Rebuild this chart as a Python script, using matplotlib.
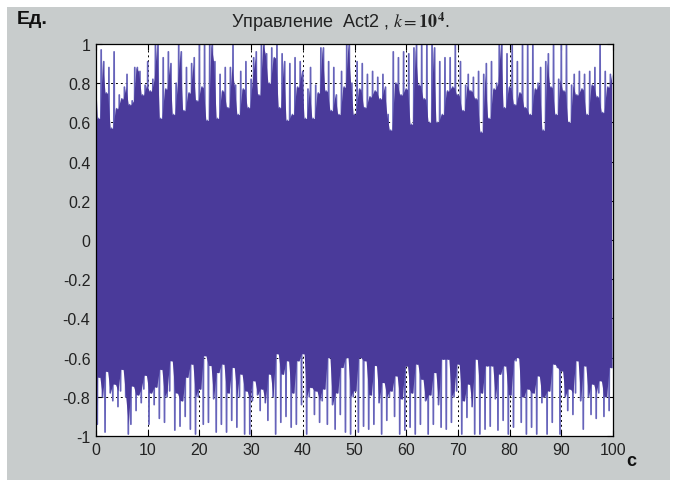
import matplotlib
matplotlib.use('Agg')
import matplotlib.pyplot as plt
from matplotlib.patches import Rectangle
import numpy as np

# ---- data ----
# upper peaks of the control signal, one every 0.5 s (t = 0, 0.5, ..., 99.5)
upper_peaks = [
    0.78, 0.62, 0.97, 0.91, 0.75, 0.88, 0.57, 0.96, 0.67, 0.74,
    0.72, 0.78, 0.845, 0.69, 0.71, 0.88, 0.88, 0.86, 0.74, 0.79,
    0.91, 0.76, 0.82, 1.0, 1.0, 0.62, 0.93, 0.77, 0.96, 0.90,
    0.64, 0.80, 1.0, 0.96, 0.66, 0.88, 0.75, 0.90, 0.93, 0.71,
    1.0, 0.78, 1.0, 0.61, 1.0, 1.0, 0.91, 0.62, 0.845, 0.76,
    0.88, 0.675, 0.88, 1.0, 0.79, 0.64, 0.86, 0.77, 0.91, 0.675,
    0.82, 0.93, 0.96, 0.74, 1.0, 1.0, 0.95, 0.80, 0.98, 0.93,
    1.0, 0.675, 0.95, 0.91, 0.61, 0.90, 0.64, 0.93, 0.78, 0.91,
    0.86, 0.62, 0.77, 0.88, 0.62, 0.79, 0.75, 0.98, 0.98, 0.76,
    0.91, 0.66, 0.88, 0.74, 0.64, 0.86, 0.78, 1.0, 1.0, 0.80,
    0.64, 0.91, 0.77, 0.90, 0.675, 0.845, 0.73, 0.86, 0.76, 0.83,
    0.72, 0.845, 0.78, 0.64, 0.56, 0.96, 0.80, 0.93, 0.74, 0.96,
    0.77, 0.95, 0.59, 0.98, 1.0, 0.79, 1.0, 0.72, 1.0, 0.60,
    1.0, 0.98, 0.60, 0.91, 0.64, 0.93, 0.76, 0.93, 0.78, 1.0,
    0.74, 0.91, 0.66, 0.79, 0.845, 0.76, 0.83, 0.72, 0.86, 0.55,
    0.845, 0.90, 0.62, 0.91, 0.77, 0.80, 1.0, 1.0, 0.675, 0.95,
    0.78, 1.0, 0.69, 0.91, 0.75, 1.0, 0.675, 1.0, 0.64, 1.0,
    0.77, 0.80, 0.88, 0.56, 0.91, 0.95, 0.78, 1.0, 0.64, 0.82,
    1.0, 0.76, 1.0, 0.60, 0.79, 0.845, 0.74, 0.86, 0.77, 0.845,
    0.64, 0.86, 0.79, 0.88, 0.73, 1.0, 0.65, 0.86, 0.78, 0.845,
]
# lower peaks, one every 0.5 s (t = 0.25, 0.75, ..., 99.75)
lower_peaks = [
    -0.94, -0.70, -0.80, -0.98, -0.67, -0.78, -0.82, -0.735, -0.85, -0.77,
    -0.66, -0.80, -0.99, -0.94, -0.745, -0.87, -0.79, -0.83, -0.76, -0.69,
    -0.94, -0.78, -0.84, -0.75, -0.91, -0.66, -0.93, -0.80, -0.77, -0.616,
    -0.97, -0.78, -0.95, -0.82, -0.90, -0.70, -0.965, -0.633, -0.99, -0.80,
    -0.76, -0.94, -0.59, -0.93, -0.64, -0.81, -0.98, -0.676, -0.94, -0.633,
    -0.98, -0.78, -0.92, -0.65, -0.955, -0.80, -0.684, -0.99, -0.77, -0.99,
    -0.82, -0.718, -0.79, -0.87, -0.76, -0.83, -0.92, -0.684, -0.80, -0.99,
    -0.58, -0.93, -0.684, -0.90, -0.616, -0.955, -0.78, -0.94, -0.616, -0.84,
    -0.58, -0.99, -0.80, -0.752, -0.89, -0.77, -0.93, -0.82, -0.76, -0.94,
    -0.60, -0.84, -0.965, -0.78, -0.89, -0.65, -0.98, -0.60, -0.99, -0.80,
    -0.77, -0.98, -0.60, -0.95, -0.616, -0.965, -0.79, -0.94, -0.64, -0.83,
    -0.99, -0.727, -0.92, -0.80, -0.77, -0.90, -0.693, -0.99, -0.81, -0.97,
    -0.642, -0.955, -0.78, -0.99, -0.633, -0.94, -0.71, -0.82, -0.99, -0.79,
    -0.94, -0.676, -0.84, -0.955, -0.608, -0.965, -0.608, -0.93, -0.80, -0.77,
    -0.633, -0.99, -0.82, -0.905, -0.735, -0.85, -0.99, -0.608, -0.99, -0.78,
    -0.965, -0.642, -0.95, -0.642, -0.81, -0.97, -0.684, -0.92, -0.642, -0.99,
    -0.79, -0.955, -0.616, -0.60, -0.93, -0.80, -0.99, -0.76, -0.955, -0.78,
    -0.99, -0.693, -0.83, -0.80, -0.99, -0.77, -0.93, -0.633, -0.65, -0.99,
    -0.667, -0.80, -0.87, -0.76, -0.89, -0.78, -0.616, -0.82, -0.965, -0.642,
    -0.80, -0.89, -0.735, -0.91, -0.78, -0.718, -0.90, -0.80, -0.87, -0.65,
]
peak_step = 0.5  # seconds between successive upper peaks

x_ticks = [0, 10, 20, 30, 40, 50, 60, 70, 80, 90, 100]
x_tick_labels = ['0', '10', '20', '30', '40', '50', '60', '70', '80', '90', '100']
y_ticks = [-1, -0.8, -0.6, -0.4, -0.2, 0, 0.2, 0.4, 0.6, 0.8, 1]
y_tick_labels = ['-1', '-0.8', '-0.6', '-0.4', '-0.2', '0', '0.2', '0.4', '0.6', '0.8', '1']

title_text = 'Управление  Act2 , $k=\\mathbf{10}^{\\mathbf{4}}$.'
y_unit = 'Ед.'
x_unit = 'с'

# ---- build signal ----
up = np.asarray(upper_peaks)
lo = np.asarray(lower_peaks)
n = len(up)
t_up = np.arange(n) * peak_step
t_low = t_up + peak_step / 2
t = np.empty(2 * n)
y = np.empty(2 * n)
t[0::2] = t_up
t[1::2] = t_low
y[0::2] = up
y[1::2] = lo

# dense core: the part of the band covered by neighbouring oscillations
up_pad = np.pad(up, 1, mode='edge')
lo_pad = np.pad(lo, 1, mode='edge')
core_top = np.minimum(up_pad[:-1], up_pad[1:])   # between successive upper peaks
core_bot = np.maximum(lo_pad[:-1], lo_pad[1:])   # between successive lower peaks
t_core_top = np.concatenate(([t_up[0]], t_up + peak_step / 2))[:len(core_top)]
t_core_bot = np.concatenate(([t_low[0] - peak_step / 2], t_low))[:len(core_bot)]
t_core_top = np.clip(t_core_top - peak_step / 2 + peak_step / 2, 0, 100)
tc = np.union1d(t_core_top, t_core_bot)
ct = np.interp(tc, t_core_top, core_top)
cb = np.interp(tc, t_core_bot, core_bot)

# ---- figure ----
plt.rcParams['font.family'] = ['Liberation Sans Narrow', 'Liberation Sans', 'DejaVu Sans']
plt.rcParams['mathtext.fontset'] = 'stix'

W, H = 678, 481
fig = plt.figure(figsize=(W / 100, H / 100), dpi=100, facecolor='white')
fig.patches.append(Rectangle((7 / W, 0), (670 - 7) / W, (H - 8) / H,
                             transform=fig.transFigure, facecolor='#c8cccc',
                             edgecolor='none', zorder=-10))

ax = fig.add_axes([96 / W, 1 - 437 / H, (613 - 96) / W, (437 - 45) / H])
ax.set_facecolor('white')
ax.plot(t, y, color='#6663ba', lw=1.25, zorder=2)
ax.fill_between(tc, cb, ct, color='#4a3a9a', lw=0, zorder=3)

ax.set_xlim(0, 100)
ax.set_ylim(-1, 1)
ax.set_xticks(x_ticks)
ax.set_xticklabels(x_tick_labels)
ax.set_yticks(y_ticks)
ax.set_yticklabels(y_tick_labels)
ax.tick_params(direction='in', length=4, width=0.8, top=True, right=True,
               labelsize=11.5, labelcolor='#222222', pad=4)
ax.grid(True, color='black', linestyle=(0, (2, 3)), linewidth=0.7, zorder=0)
ax.set_axisbelow(True)
for sp in ax.spines.values():
    sp.set_linewidth(0.9)
    sp.set_zorder(5)

fig.text(340 / W, 1 - 22 / H, title_text, ha='center', va='center',
         fontsize=13, color='#222222',
         family=['Liberation Sans', 'DejaVu Sans'])
fig.text(17 / W, 1 - 20 / H, y_unit, ha='left', va='center',
         fontsize=14, fontweight='bold', color='#111111',
         family=['Liberation Sans', 'DejaVu Sans'])
fig.text(626 / W, 1 - 462 / H, x_unit, ha='left', va='center',
         fontsize=13, fontweight='bold', color='#111111',
         family=['Liberation Sans', 'DejaVu Sans'])

fig.savefig('out.png', dpi=100, facecolor=fig.get_facecolor())
